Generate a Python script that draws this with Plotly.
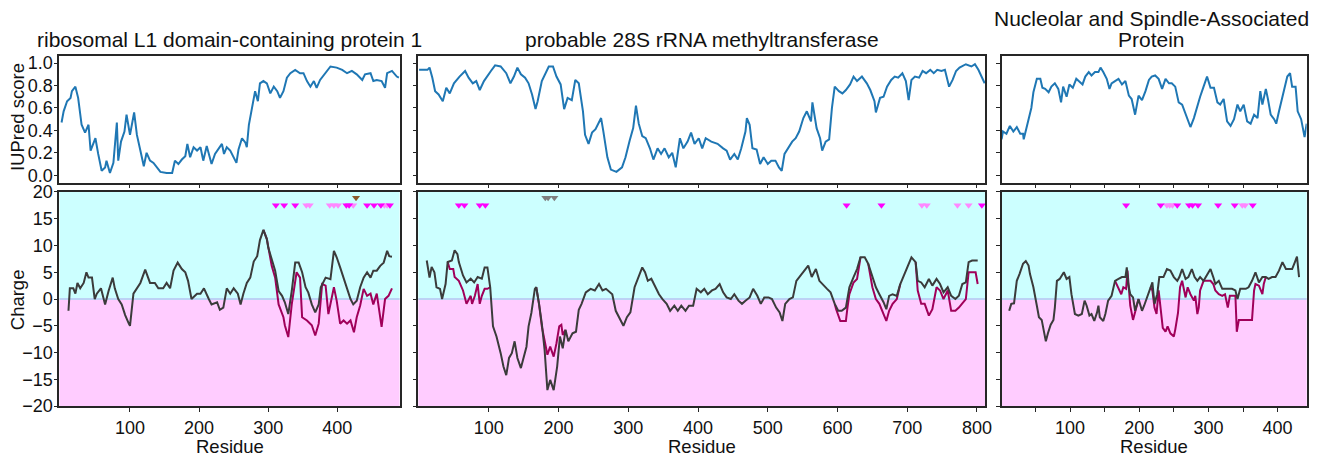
import plotly.graph_objects as go

W, H = 1325, 459

# ---------------- data (residue, value) ----------------
iupred_p1 = [(1,0.47),(4,0.57),(9,0.66),(14,0.69),(16,0.75),(21,0.79),(25,0.69),(30,0.45),(35,0.38),(40,0.45),
             (43,0.22),(50,0.33),(54,0.19),(59,0.04),(64,0.07),(66,0.13),(71,0.02),(76,0.11),(81,0.47),(83,0.13),
             (87,0.30),(92,0.39),(95,0.54),(100,0.36),(106,0.56),(110,0.36),(115,0.22),(120,0.08),(124,0.20),(129,0.13),
             (134,0.11),(139,0.07),(144,0.03),(153,0.02),(161,0.02),(165,0.13),(170,0.10),(175,0.14),(180,0.17),(183,0.28),
             (187,0.16),(192,0.25),(197,0.22),(202,0.25),(206,0.13),(211,0.26),(218,0.10),(223,0.19),(228,0.23),(233,0.28),
             (236,0.19),(240,0.25),(245,0.22),(250,0.16),(254,0.11),(257,0.23),(262,0.33),(267,0.29),(269,0.25),(272,0.45),
             (276,0.60),(281,0.75),(285,0.66),(288,0.82),(293,0.84),(298,0.82),(303,0.73),(308,0.79),(313,0.75),(317,0.69),
             (322,0.75),(327,0.87),(332,0.91),(339,0.94),(346,0.91),(351,0.91),(356,0.84),(361,0.79),(366,0.84),(370,0.78),
             (375,0.85),(382,0.91),(390,0.97),(399,0.96),(407,0.94),(414,0.91),(421,0.93),(428,0.90),(436,0.85),(440,0.90),
             (448,0.91),(452,0.84),(457,0.85),(464,0.84),(469,0.78),(472,0.91),(479,0.93),(486,0.88),(489,0.87)]

iupred_p2 = [(0,0.94),(12,0.94),(15,0.96),(19,0.87),(23,0.75),(28,0.72),(34,0.66),(39,0.78),(44,0.73),(50,0.82),
             (58,0.88),(66,0.93),(71,0.87),(77,0.82),(82,0.84),(87,0.76),(93,0.84),(98,0.88),(103,0.93),(109,0.98),
             (117,0.97),(125,0.91),(131,0.82),(136,0.88),(141,0.96),(146,0.90),(152,0.87),(157,0.82),(162,0.72),(167,0.59),
             (170,0.66),(176,0.84),(181,0.90),(186,0.97),(192,0.97),(197,0.88),(203,0.81),(208,0.59),(213,0.69),(219,0.67),
             (224,0.85),(229,0.82),(235,0.57),(238,0.36),(243,0.28),(248,0.38),(253,0.41),(259,0.48),(261,0.51),(264,0.40),
             (270,0.16),(275,0.05),(283,0.03),(291,0.07),(296,0.16),(302,0.31),(307,0.42),(311,0.62),(315,0.46),(320,0.35),
             (325,0.33),(331,0.24),(336,0.14),(342,0.24),(347,0.19),(352,0.24),(358,0.16),(363,0.20),(368,0.07),(374,0.33),
             (379,0.24),(385,0.30),(390,0.38),(395,0.28),(401,0.33),(406,0.24),(411,0.33),(419,0.30),(428,0.28),(436,0.24),
             (441,0.22),(446,0.14),(452,0.19),(457,0.14),(462,0.24),(468,0.39),(470,0.51),(474,0.45),(478,0.24),(484,0.23),
             (489,0.10),(494,0.16),(500,0.10),(505,0.13),(511,0.13),(516,0.07),(520,0.04),(524,0.19),(529,0.24),(535,0.30),
             (540,0.33),(545,0.39),(551,0.51),(556,0.57),(562,0.48),(564,0.65),(570,0.42),(575,0.33),(578,0.22),(583,0.30),
             (588,0.32),(592,0.60),(596,0.79),(602,0.75),(607,0.73),(612,0.76),(618,0.81),(623,0.88),(628,0.84),(635,0.88),
             (642,0.82),(647,0.76),(653,0.66),(655,0.56),(661,0.69),(666,0.70),(671,0.79),(677,0.85),(682,0.88),(687,0.87),
             (693,0.91),(698,0.84),(702,0.67),(706,0.85),(711,0.88),(717,0.87),(722,0.93),(727,0.91),(733,0.94),(738,0.91),
             (743,0.94),(749,0.93),(754,0.94),(760,0.79),(765,0.85),(770,0.93),(775,0.96),(784,0.99),(792,0.97),(797,0.99),
             (802,0.94),(807,0.87),(811,0.82)]

iupred_p3 = [(1,0.32),(3,0.39),(8,0.37),(13,0.44),(18,0.39),(23,0.43),(28,0.37),(32,0.37),(33,0.32),(37,0.43),
             (40,0.51),(44,0.60),(47,0.74),(52,0.86),(57,0.86),(60,0.78),(64,0.77),(69,0.74),(73,0.79),(78,0.82),
             (83,0.77),(87,0.65),(90,0.79),(95,0.70),(99,0.81),(104,0.78),(109,0.86),(114,0.83),(118,0.81),(122,0.88),
             (127,0.92),(131,0.89),(136,0.92),(141,0.92),(144,0.96),(148,0.92),(153,0.86),(157,0.77),(160,0.82),(165,0.84),
             (170,0.86),(175,0.81),(180,0.84),(185,0.71),(189,0.68),(194,0.54),(199,0.71),(204,0.67),(209,0.75),(214,0.85),
             (218,0.88),(223,0.89),(228,0.86),(233,0.77),(238,0.86),(243,0.82),(247,0.82),(252,0.79),(257,0.65),(262,0.63),
             (267,0.55),(270,0.50),(274,0.43),(279,0.51),(284,0.63),(288,0.70),(293,0.79),(298,0.88),(303,0.78),(308,0.78),
             (313,0.65),(317,0.63),(322,0.68),(327,0.48),(332,0.44),(337,0.50),(342,0.63),(346,0.57),(351,0.63),(356,0.48),
             (361,0.46),(366,0.54),(371,0.51),(375,0.75),(378,0.63),(383,0.77),(386,0.68),(390,0.54),(395,0.50),(398,0.46),
             (402,0.57),(409,0.74),(414,0.88),(418,0.91),(421,0.79),(426,0.79),(429,0.57),(434,0.50),(439,0.34),(442,0.46)]

charge_p1 = [(11,-2.2),(13,2),(18,2),(21,1),(24,3),(28,2),(33,3),(37,5),(40,4),(45,4),(49,0),(52,1),(58,2),(62,0),
             (64,-1),(69,1.5),(75,4),(78,2),(83,0),(88,-1),(93,-3),(98,-4.5),(100,-5),(105,1),(110,2),(115,3),(122,5.5),
             (126,4),(129,3),(136,3),(141,2),(148,2),(153,3),(158,2),(163,5.3),(169,6.8),(175,5.6),(180,5),(184,3.4),
             (189,0),(197,1),(202,1),(207,2),(214,0),(218,-1),(226,-0.6),(230,-2),(235,-1.6),(240,2),(245,1),(250,2),
             (256,1),(260,-1),(264,1),(269,3),(274,4),(279,7),(284,8),(288,11),(293,12.9),(298,11.2),(300,9.6),(305,7.5),
             (310,5.3),(315,1.5),(320,0.6),(324,-0.6),(329,-2.8),(334,1.5),(339,6.8),(344,6.8),(349,5),(354,2.2),(358,1.2),
             (363,-1),(368,-2.5),(373,-1),(376,2.2),(383,4),(390,3.7),(395,9),(399,7.8),(404,5.9),(409,4),(414,2.2),
             (419,0),(423,-1),(428,-0.3),(433,2.2),(438,4),(443,5),(448,4),(452,5.3),(457,5.3),(462,6.2),(467,6.8),
             (472,9),(475,8),(479,7.9)]

charge_p2 = [(11,7.2),(15,4),(18,6),(22,5),(25,2.2),(30,1.9),(33,0),(38,2.8),(41,6.9),(47,7.2),(51,9.1),(55,8.4),
             (57,6.9),(63,4.4),(68,3.1),(74,3.8),(79,3.1),(84,4.1),(90,3.8),(94,5.9),(98,5.9),(102,2.2),(106,-5.1),
             (111,-7),(117,-10.1),(121,-12.6),(125,-14.2),(129,-11),(133,-10.1),(137,-7.9),(141,-11),(146,-12.9),
             (149,-11.4),(154,-8.9),(157,-5.1),(161,-2.6),(166,1.9),(168,2.2),(172,-0.9),(176,-4.6),(180,-9.5),
             (184,-17),(188,-15.1),(193,-17),(198,-12.6),(202,-7),(206,-9.2),(210,-5.75),(214,-7.9),(220,-6.4),
             (225,-6.1),(229,-2),(233,-0.9),(239,1.25),(246,1.9),(252,1.6),(258,2.8),(263,1.6),(268,1.9),(277,0.9),
             (282,-2.2),(287,-3.4),(293,-5),(298,-3.4),(303,-2.5),(309,2.2),(314,3.8),(320,5.9),(324,5),(328,3.4),
             (333,3.8),(339,2.2),(344,0.9),(349,0),(355,-0.9),(360,-2.2),(366,-1.25),(371,-2.2),(376,-1.25),(382,-2.2),
             (387,-1.25),(393,-1.25),(398,1.9),(404,1.25),(409,1.9),(414,0.9),(420,1.6),(425,1.9),(431,2.8),(436,1.25),
             (441,0.3),(447,0),(452,0.9),(458,-0.3),(463,-0.9),(468,-0.3),(474,0.3),(479,1.9),(485,0.6),(490,-0.9),
             (495,0.3),(501,0.3),(506,0),(512,-1.6),(517,-2.5),(521,-4.1),(525,-0.9),(531,0),(536,0.3),(541,3.4),
             (547,4.4),(552,5.3),(558,6.25),(563,4.1),(569,5.6),(574,3.4),(579,2.8),(585,1.9),(590,1.25),(596,-0.9),
             (601,-2.2),(606,-2.2),(612,-1.6),(617,2.2),(623,4.1),(628,5.6),(633,7.8),(639,7.8),(644,6.6),(650,4.1),
             (655,2.2),(660,0.9),(666,-0.6),(670,-1.9),(674,0.6),(679,0.9),(685,0.6),(690,2.8),(696,4.7),(701,6.25),
             (706,7.8),(712,6.9),(715,3.4),(720,3.1),(725,2.2),(731,3.75),(736,2.5),(742,3.75),(747,2.8),(752,1.25),
             (758,2.2),(763,0.6),(769,0),(774,0.6),(779,2.8),(784,3.1),(788,6.9),(793,7.2),(801,7.2)]

charge_p3 = [(12,-2.2),(15,-0.9),(19,-0.8),(23,3.4),(27,4.7),(32,6.6),(36,7.1),(40,6.25),(42,4.7),(47,2.2),
             (52,-1.25),(55,-3.4),(59,-3.9),(62,-5.75),(65,-7.9),(68,-6.4),(72,-4.8),(76,-3.9),(78,-1.6),(81,3.4),
             (85,3.75),(91,5),(95,3.75),(99,4.1),(102,0.9),(107,-2.8),(112,-3.1),(117,-2.8),(121,-0.3),(124,-1.25),
             (128,-3.1),(131,-2.8),(135,-4.1),(139,-2.5),(141,-1.25),(143,-3.4),(148,-4.1),(151,-2.8),(155,-0.3),
             (160,0.6),(165,3.4),(170,3.75),(175,4.1),(180,4.1),(182,5.9),(184,2.8),(187,0.9),(191,0.3),(194,-2.2),
             (199,0),(204,-2.2),(207,-1.25),(211,0.3),(216,2.2),(219,3.1),(222,-0.9),(226,0.9),(229,4.1),(235,4.1),
             (240,5.6),(245,5.3),(250,4.1),(255,3.4),(258,4.1),(262,5.6),(267,3.75),(271,4.1),(276,5.6),(280,4.1),
             (284,3.4),(288,4.1),(293,3.4),(298,4.4),(303,5.6),(307,4.1),(310,2.8),(315,3.4),(320,1.9),(327,1.9),
             (334,1.9),(339,1.6),(342,0),(346,1.9),(354,1.9),(358,2.2),(363,3.4),(368,5),(373,3.1),(378,4.1),
             (383,4.1),(387,3.75),(392,4.1),(397,4.1),(402,5.3),(407,6.9),(412,5.6),(416,5.6),(421,5.6),(425,6.9),
             (428,7.9),(431,4.1)]

# magenta curve: only the stretches where it leaves the dark curve (elsewhere the two coincide)
charge2_p1 = [[(293,12.9),(298,11.2),(305,6.2),(310,4),(315,-1),(320,-2.8),(322,-3.4),(324,-4.9),(329,-7.1),
               (334,-1),(341,5),(346,4),(349,-3.4),(356,-4),(363,-4.9),(368,-6.8),(373,-4.6),(378,2.8),(383,2.5),
               (387,-2.8),(395,2.2),(399,-0.3),(404,-4.6),(409,-4),(414,-4.6),(419,-4),(424,-6.2),(428,-3.4),
               (433,-1.2),(438,1.9),(443,0.6),(448,1),(452,-1),(457,1),(462,-3.4),(464,-5.2),(469,0),(474,0.6),(479,2)]]
charge2_p2 = [[(41,6.9),(44,5.6),(49,5.6),(51,4.1),(57,3.4),(63,1.6),(68,-0.9),(74,0.6),(76,-0.9),(80,0.6),
               (84,2.8),(87,-0.9),(90,0.6),(94,1.9),(98,1.9),(102,2.2)],
              [(168,2.2),(172,-0.9),(176,-5.1),(181,-8.25),(184,-10.4),(188,-8.9),(193,-10.75),(197,-8.25),
               (201,-5.1),(204,-4.8),(206,-6.7),(210,-5.75)],
              [(596,-0.9),(598,-1.9),(604,-4.1),(612,-4.1),(614,-1.9),(617,0.9),(623,3.1),(628,3.75),(633,7.8)],
              [(644,6.6),(650,2.2),(655,0),(660,-0.9),(666,-2.8),(670,-4.1),(674,-2.2),(679,-0.9),(685,0),(690,2.8)],
              [(712,6.9),(715,1.6),(720,-0.9),(725,-0.9),(731,-3.1),(736,-1.9),(742,2.2),(747,1.6),(752,0),
               (758,1.6),(763,-2.2),(769,-2.2),(774,-1.6),(779,-0.9),(784,0),(788,5),(793,5),(798,5),(801,2.8)]]
charge2_p3 = [[(165,3.4),(169,2.2),(174,0.9),(177,2.2),(181,1.9),(183,5.3),(187,-1.25),(191,-3.9),(194,-2.2),(199,0)],
              [(216,2.2),(219,1.6),(222,-1.6),(225,-2.8),(228,1.6),(231,-2.5),(234,-5.4),(238,-6.1),(241,-5.1),
               (245,-6.4),(250,-7),(252,-5.75),(256,-2.6),(259,2.2),(262,3.4),(267,0.3),(270,2.2),(274,0.9),
               (279,-0.3),(281,0.6),(284,-2.8),(286,-1.6),(288,1.6),(293,3.4),(298,3.4),(303,3.4),(307,2.8),
               (310,1.6),(315,0.9),(320,0.6),(324,0.9),(328,-1.6),(331,0.6),(334,0.6),(339,0.6),(341,-6.1),
               (344,-3.9),(350,-3.9),(356,-3.9),(363,-3.9),(366,1.6),(368,2.8),(373,2.5),(378,0.9),(380,2.8),(383,4.1)]]

# site markers (residue positions)
sites_strong = [[311, 323, 339, 413, 417, 443, 453, 463, 476],
                [57, 65, 87, 95, 613, 663, 807],
                [181, 231, 255, 272, 277, 285, 314, 338, 364]]
sites_weak = [[355, 360, 389, 395, 401, 423, 468, 472],
              [721, 728, 772, 788],
              [240, 244, 248, 349, 353]]
sites_other = [[427], [181, 185, 194], []]
other_colors = ["#8b5a2b", "#7f7f7f", "#7f7f7f"]
strong_y, weak_y, other_y = 17.5, 17.5, 18.9

titles = ["ribosomal L1 domain-containing protein 1", "probable 28S rRNA methyltransferase",
          "Nucleolar and Spindle-Associated", "Protein"]
x_ranges = [[-2, 490], [-1, 812], [1, 442]]
x_tickvals = [[100, 200, 300, 400], [100, 200, 300, 400, 500, 600, 700, 800],
              [50, 100, 150, 200, 250, 300, 350, 400]]
x_ticktext = [["100", "200", "300", "400"], ["100", "200", "300", "400", "500", "600", "700", "800"],
              ["", "100", "", "200", "", "300", "", "400"]]
iu_ticks = [0.0, 0.2, 0.4, 0.6, 0.8, 1.0]
ch_ticks = [-20, -15, -10, -5, 0, 5, 10, 15, 20]

# ---------------- layout geometry (page pixels) ----------------
col_px = [(59.8, 401.7), (420.6, 990.6), (1006.9, 1313.6)]
top_px = (47.8, 180.5)
bot_px = (190.2, 414.2)
label_axis_px = 53.0   # where the (line-less) tick-label axes sit

def xd(a, b):
    return [a / W, b / W]

def yd(a, b):
    return [1 - b / H, 1 - a / H]

FONT = "Liberation Sans, Arial, sans-serif"
FRAME = "#262626"
BLUE = "#1f77b4"
DARK = "#3b3b3b"
MAG = "#a0005a"
TXT = "#111111"

fig = go.Figure()

def unzip(pairs):
    return [p[0] for p in pairs], [p[1] for p in pairs]

iupreds = [iupred_p1, iupred_p2, iupred_p3]
charges = [charge_p1, charge_p2, charge_p3]
charges2 = [charge2_p1, charge2_p2, charge2_p3]

for i in range(3):
    ta = "" if i == 0 else str(i + 1)
    ba = str(i + 4)
    x, y = unzip(iupreds[i])
    fig.add_trace(go.Scatter(x=x, y=y, mode="lines", line=dict(color=BLUE, width=2),
                             xaxis="x" + ta, yaxis="y" + ta, showlegend=False, hoverinfo="skip"))
    mx, my = [], []
    for seg in charges2[i]:
        sx, sy = unzip(seg)
        mx += sx + [None]
        my += sy + [None]
    fig.add_trace(go.Scatter(x=mx, y=my, mode="lines", line=dict(color=MAG, width=2),
                             xaxis="x" + ba, yaxis="y" + ba, showlegend=False, hoverinfo="skip"))
    x, y = unzip(charges[i])
    fig.add_trace(go.Scatter(x=x, y=y, mode="lines", line=dict(color=DARK, width=2),
                             xaxis="x" + ba, yaxis="y" + ba, showlegend=False, hoverinfo="skip"))
    for sites, yy, col in [(sites_weak[i], weak_y, "#ff88ff"), (sites_strong[i], strong_y, "#ff00ff"),
                           (sites_other[i], other_y, other_colors[i])]:
        if sites:
            fig.add_trace(go.Scatter(x=sites, y=[yy] * len(sites), mode="markers",
                                     marker=dict(symbol="triangle-down", size=7, color=col, line=dict(width=0)),
                                     xaxis="x" + ba, yaxis="y" + ba, showlegend=False, hoverinfo="skip"))

# invisible carriers so the tick-label axes get drawn
fig.add_trace(go.Scatter(x=[None], y=[None], xaxis="x", yaxis="y7", mode="markers",
                         showlegend=False, hoverinfo="skip"))
fig.add_trace(go.Scatter(x=[None], y=[None], xaxis="x4", yaxis="y8", mode="markers",
                         showlegend=False, hoverinfo="skip"))

tickfont = dict(family=FONT, size=18, color=TXT)
axis_common = dict(showline=True, mirror=True, linecolor=FRAME, linewidth=1.6, ticks="outside",
                   ticklen=4, tickwidth=1.3, tickcolor=FRAME, showgrid=False, zeroline=False,
                   tickfont=tickfont)

layout = dict(width=W, height=H, margin=dict(l=0, r=0, t=0, b=0), paper_bgcolor="white",
              plot_bgcolor="white", showlegend=False)

for i in range(3):
    ta = "" if i == 0 else str(i + 1)
    ba = str(i + 4)
    layout["xaxis" + ta] = dict(axis_common, domain=xd(*col_px[i]), range=x_ranges[i], anchor="y" + ta,
                                tickvals=x_tickvals[i], showticklabels=False)
    layout["yaxis" + ta] = dict(axis_common, domain=yd(*top_px), range=[-0.066, 1.066], anchor="x" + ta,
                                tickvals=iu_ticks, showticklabels=False)
    layout["xaxis" + ba] = dict(axis_common, domain=xd(*col_px[i]), range=x_ranges[i], anchor="y" + ba,
                                tickvals=x_tickvals[i], ticktext=x_ticktext[i], ticklen=4)
    layout["yaxis" + ba] = dict(axis_common, domain=yd(*bot_px), range=[-20, 20], anchor="x" + ba,
                                tickvals=ch_ticks, showticklabels=False)

label_axis = dict(anchor="free", position=label_axis_px / W, side="left", showline=False, showgrid=False,
                  zeroline=False, ticks="", tickfont=tickfont)
layout["yaxis7"] = dict(label_axis, overlaying="y", range=[-0.066, 1.066], tickvals=iu_ticks, tickformat=".1f")
layout["yaxis8"] = dict(label_axis, overlaying="y4", range=[-20, 20], tickvals=ch_ticks)

fig.update_layout(**layout)

shapes = []
for i in range(3):
    ba = str(i + 4)
    shapes.append(dict(type="rect", xref="x" + ba + " domain", yref="y" + ba, x0=0, x1=1, y0=0, y1=20,
                       fillcolor="#ccffff", line=dict(width=0), layer="below"))
    shapes.append(dict(type="rect", xref="x" + ba + " domain", yref="y" + ba, x0=0, x1=1, y0=-20, y1=0,
                       fillcolor="#ffccff", line=dict(width=0), layer="below"))
    shapes.append(dict(type="line", xref="x" + ba + " domain", yref="y" + ba, x0=0, x1=1, y0=0, y1=0,
                       line=dict(color="#bcd2f5", width=2), layer="below"))
fig.update_layout(shapes=shapes)

ann = []
title_pos = [((col_px[0][0] + col_px[0][1]) / 2, 31, titles[0]),
             ((col_px[1][0] + col_px[1][1]) / 2, 31, titles[1]),
             (1158, 8.5, titles[2]),
             (1158, 31, titles[3])]
for cx, cy, t in title_pos:
    ann.append(dict(text=t, x=cx / W, y=1 - cy / H, xref="paper", yref="paper", showarrow=False,
                    xanchor="center", yanchor="middle", font=dict(family=FONT, size=21, color=TXT)))
for i in range(3):
    cx = (col_px[i][0] + col_px[i][1]) / 2
    ann.append(dict(text="Residue", x=cx / W, y=1 - 456.5 / H, xref="paper", yref="paper", showarrow=False,
                    xanchor="center", yanchor="middle", font=dict(family=FONT, size=18.5, color=TXT)))
ann.append(dict(text="IUPred score", x=17 / W, y=1 - 112 / H, xref="paper", yref="paper", showarrow=False,
                textangle=-90, xanchor="center", yanchor="middle",
                font=dict(family=FONT, size=18.5, color=TXT)))
ann.append(dict(text="Charge", x=17 / W, y=1 - 302.5 / H, xref="paper", yref="paper", showarrow=False,
                textangle=-90, xanchor="center", yanchor="middle",
                font=dict(family=FONT, size=18.5, color=TXT)))
fig.update_layout(annotations=ann)

fig.write_html("out.html")
